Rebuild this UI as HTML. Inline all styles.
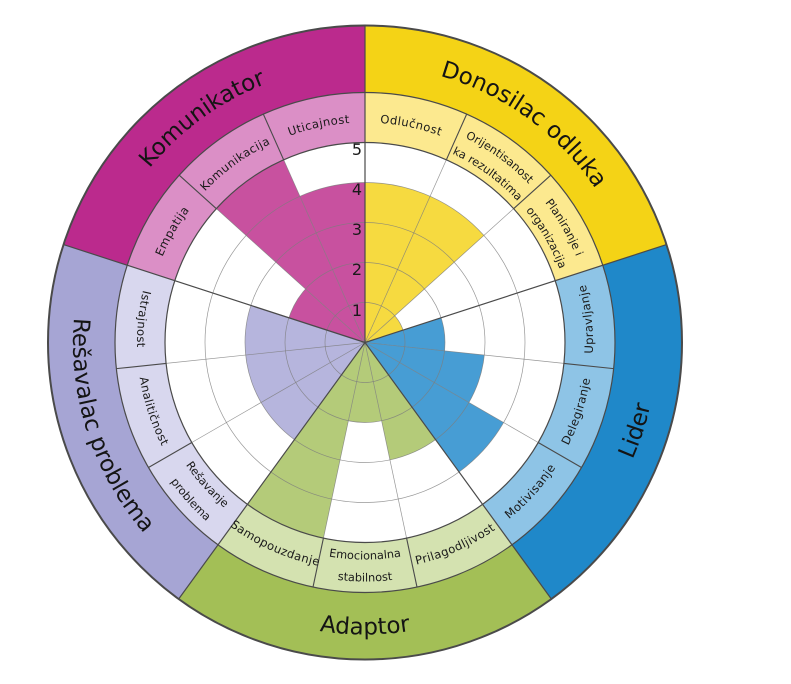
<!DOCTYPE html>
<html>
<head>
<meta charset="utf-8">
<style>
  html,body{margin:0;padding:0;background:#fff;}
  svg{display:block;}
  .s{font-family:"DejaVu Sans","Liberation Sans",sans-serif;font-size:11.6px;letter-spacing:0.4px;fill:#1a1a1a;}
  .t{font-family:"DejaVu Sans","Liberation Sans",sans-serif;font-size:11.3px;letter-spacing:0px;fill:#1a1a1a;}
  .c{font-family:"DejaVu Sans","Liberation Sans",sans-serif;font-size:23px;fill:#141414;}
  .n{font-family:"DejaVu Sans","Liberation Sans",sans-serif;font-size:16px;fill:#1a1a1a;}
</style>
</head>
<body>
<svg width="791" height="684" viewBox="0 0 791 684" xmlns="http://www.w3.org/2000/svg">
<rect width="791" height="684" fill="#fff"/>
<g transform="translate(365,342.5)">
  <defs>
    <path id="cw220" d="M-168.53,-141.41 A220,220 0 0 1 168.53,-141.41"/>
    <path id="cw228" d="M-174.66,-146.56 A228,228 0 0 1 174.66,-146.56"/>
    <path id="cw208" d="M-159.34,-133.70 A208,208 0 0 1 159.34,-133.70"/>
    <path id="cw277" d="M-212.19,-178.05 A277,277 0 0 1 212.19,-178.05"/>
    <path id="cc228" d="M-174.66,146.56 A228,228 0 0 0 174.66,146.56"/>
    <path id="cc217" d="M-166.23,139.49 A217,217 0 0 0 166.23,139.49"/>
    <path id="cc239" d="M-183.08,153.63 A239,239 0 0 0 183.08,153.63"/>
    <path id="cc292" d="M-223.68,187.69 A292,292 0 0 0 223.68,187.69"/>
  </defs>

  <!-- outer category wedges -->
  <path d="M0,0 L0,-317 A317,317 0 0 1 301.49,-97.96 Z" fill="#F4D316"/>
  <path d="M0,0 L301.49,-97.96 A317,317 0 0 1 186.33,256.46 Z" fill="#1F88C9"/>
  <path d="M0,0 L186.33,256.46 A317,317 0 0 1 -186.33,256.46 Z" fill="#A3BF56"/>
  <path d="M0,0 L-186.33,256.46 A317,317 0 0 1 -301.49,-97.96 Z" fill="#A6A5D4"/>
  <path d="M0,0 L-301.49,-97.96 A317,317 0 0 1 0,-317 Z" fill="#BB2A8D"/>

  <!-- subcategory band wedges -->
  <path d="M0,0 L0,-250 A250,250 0 0 1 237.76,-77.25 Z" fill="#FCE98F"/>
  <path d="M0,0 L237.76,-77.25 A250,250 0 0 1 146.95,202.25 Z" fill="#8EC4E6"/>
  <path d="M0,0 L146.95,202.25 A250,250 0 0 1 -146.95,202.25 Z" fill="#D4E2B0"/>
  <path d="M0,0 L-146.95,202.25 A250,250 0 0 1 -237.76,-77.25 Z" fill="#D8D7EE"/>
  <path d="M0,0 L-237.76,-77.25 A250,250 0 0 1 0,-250 Z" fill="#DB8FC6"/>

  <!-- white chart area -->
  <circle r="200" fill="#fff"/>

  <!-- data wedges -->
  <path d="M0,0 L0,-160 A160,160 0 0 1 118.90,-107.06 Z" fill="#F6DA40"/>
  <path d="M0,0 L29.73,-26.77 A40,40 0 0 1 38.04,-12.36 Z" fill="#F6DA40"/>
  <path d="M0,0 L76.08,-24.72 A80,80 0 0 1 79.56,8.36 Z" fill="#479DD4"/>
  <path d="M0,0 L119.34,12.54 A120,120 0 0 1 103.92,60 Z" fill="#479DD4"/>
  <path d="M0,0 L138.56,80 A160,160 0 0 1 94.05,129.44 Z" fill="#479DD4"/>
  <path d="M0,0 L70.53,97.08 A120,120 0 0 1 24.95,117.38 Z" fill="#B4CB79"/>
  <path d="M0,0 L16.63,78.25 A80,80 0 0 1 -16.63,78.25 Z" fill="#B4CB79"/>
  <path d="M0,0 L-41.58,195.63 A200,200 0 0 1 -117.56,161.80 Z" fill="#B4CB79"/>
  <path d="M0,0 L-70.53,97.08 A120,120 0 0 1 -114.13,-37.08 Z" fill="#B6B5DD"/>
  <path d="M0,0 L-76.08,-24.72 A80,80 0 0 1 -59.45,-53.53 Z" fill="#C8519F"/>
  <path d="M0,0 L-148.63,-133.83 A200,200 0 0 1 -81.35,-182.71 Z" fill="#C8519F"/>
  <path d="M0,0 L-65.08,-146.17 A160,160 0 0 1 0,-160 Z" fill="#C8519F"/>

  <!-- grid circles -->
  <g fill="none" stroke="#7d7d7d" stroke-width="0.7" stroke-opacity="0.8">
    <circle r="40"/><circle r="80"/><circle r="120"/><circle r="160"/>
  </g>
  <!-- thin radial grid lines -->
  <g stroke="#7d7d7d" stroke-width="0.7" stroke-opacity="0.8">
    <line x1="0" y1="0" x2="81.35" y2="-182.71"/>
    <line x1="0" y1="0" x2="148.63" y2="-133.83"/>
    <line x1="0" y1="0" x2="198.90" y2="20.91"/>
    <line x1="0" y1="0" x2="173.21" y2="100"/>
    <line x1="0" y1="0" x2="41.58" y2="195.63"/>
    <line x1="0" y1="0" x2="-41.58" y2="195.63"/>
    <line x1="0" y1="0" x2="-173.21" y2="100"/>
    <line x1="0" y1="0" x2="-198.90" y2="20.91"/>
    <line x1="0" y1="0" x2="-148.63" y2="-133.83"/>
    <line x1="0" y1="0" x2="-81.35" y2="-182.71"/>
  </g>
  <!-- subcategory boundaries in band -->
  <g stroke="#4a4a4a" stroke-width="1.1">
    <line x1="81.35" y1="-182.71" x2="101.68" y2="-228.39"/>
    <line x1="148.63" y1="-133.83" x2="185.79" y2="-167.28"/>
    <line x1="198.90" y1="20.91" x2="248.63" y2="26.13"/>
    <line x1="173.21" y1="100" x2="216.51" y2="125"/>
    <line x1="41.58" y1="195.63" x2="51.98" y2="244.54"/>
    <line x1="-41.58" y1="195.63" x2="-51.98" y2="244.54"/>
    <line x1="-173.21" y1="100" x2="-216.51" y2="125"/>
    <line x1="-198.90" y1="20.91" x2="-248.63" y2="26.13"/>
    <line x1="-148.63" y1="-133.83" x2="-185.79" y2="-167.28"/>
    <line x1="-81.35" y1="-182.71" x2="-101.68" y2="-228.39"/>
  </g>
  <!-- ring circles -->
  <g fill="none" stroke="#4a4a4a">
    <circle r="200" stroke-width="1.2"/>
    <circle r="250" stroke-width="1.2"/>
    <circle r="317" stroke-width="2"/>
  </g>
  <!-- category boundaries -->
  <g stroke="#4a4a4a" stroke-width="1.2">
    <line x1="0" y1="0" x2="0" y2="-317"/>
    <line x1="0" y1="0" x2="301.49" y2="-97.96"/>
    <line x1="0" y1="0" x2="186.33" y2="256.46"/>
    <line x1="0" y1="0" x2="-186.33" y2="256.46"/>
    <line x1="0" y1="0" x2="-301.49" y2="-97.96"/>
  </g>

  <!-- scale numbers -->
  <text class="n" x="-3" y="-187.5" text-anchor="end">5</text>
  <text class="n" x="-3" y="-147.5" text-anchor="end">4</text>
  <text class="n" x="-3" y="-107.5" text-anchor="end">3</text>
  <text class="n" x="-3" y="-67.5" text-anchor="end">2</text>
  <text class="n" x="-3" y="-26.5" text-anchor="end">1</text>

  <!-- subcategory labels (clockwise, tops outward) -->
  <g transform="rotate(12)"><text class="s"><textPath href="#cw220" startOffset="50%" text-anchor="middle">Odlučnost</textPath></text></g>
  <g transform="rotate(36)"><text class="t"><textPath href="#cw228" startOffset="50%" text-anchor="middle">Orijentisanost</textPath></text></g>
  <g transform="rotate(36)"><text class="t"><textPath href="#cw208" startOffset="50%" text-anchor="middle">ka rezultatima</textPath></text></g>
  <g transform="rotate(60)"><text class="t"><textPath href="#cw228" startOffset="50%" text-anchor="middle">Planiranje i</textPath></text></g>
  <g transform="rotate(60)"><text class="t"><textPath href="#cw208" startOffset="50%" text-anchor="middle">organizacija</textPath></text></g>
  <g transform="rotate(-60)"><text class="s"><textPath href="#cw220" startOffset="50%" text-anchor="middle">Empatija</textPath></text></g>
  <g transform="rotate(-36)"><text class="s"><textPath href="#cw220" startOffset="50%" text-anchor="middle">Komunikacija</textPath></text></g>
  <g transform="rotate(-12)"><text class="s"><textPath href="#cw220" startOffset="50%" text-anchor="middle">Uticajnost</textPath></text></g>

  <!-- subcategory labels (counter-clockwise, tops inward) -->
  <g transform="rotate(-96)"><text class="s"><textPath href="#cc228" startOffset="50%" text-anchor="middle">Upravljanje</textPath></text></g>
  <g transform="rotate(-72)"><text class="s"><textPath href="#cc228" startOffset="50%" text-anchor="middle">Delegiranje</textPath></text></g>
  <g transform="rotate(-48)"><text class="s"><textPath href="#cc228" startOffset="50%" text-anchor="middle">Motivisanje</textPath></text></g>
  <g transform="rotate(-24)"><text class="s"><textPath href="#cc228" startOffset="50%" text-anchor="middle">Prilagodljivost</textPath></text></g>
  <g><text class="t"><textPath href="#cc217" startOffset="50%" text-anchor="middle">Emocionalna</textPath></text></g>
  <g><text class="t"><textPath href="#cc239" startOffset="50%" text-anchor="middle">stabilnost</textPath></text></g>
  <g transform="rotate(24)"><text class="s"><textPath href="#cc228" startOffset="50%" text-anchor="middle">Samopouzdanje</textPath></text></g>
  <g transform="rotate(48)"><text class="t"><textPath href="#cc217" startOffset="50%" text-anchor="middle">Rešavanje</textPath></text></g>
  <g transform="rotate(48)"><text class="t"><textPath href="#cc239" startOffset="50%" text-anchor="middle">problema</textPath></text></g>
  <g transform="rotate(72)"><text class="s"><textPath href="#cc228" startOffset="50%" text-anchor="middle">Analitičnost</textPath></text></g>
  <g transform="rotate(96)"><text class="s"><textPath href="#cc228" startOffset="50%" text-anchor="middle">Istrajnost</textPath></text></g>

  <!-- category labels -->
  <g transform="rotate(36)"><text class="c"><textPath href="#cw277" startOffset="50%" text-anchor="middle">Donosilac odluka</textPath></text></g>
  <g transform="rotate(-36)"><text class="c"><textPath href="#cw277" startOffset="50%" text-anchor="middle">Komunikator</textPath></text></g>
  <g transform="rotate(-72)"><text class="c"><textPath href="#cc292" startOffset="50%" text-anchor="middle">Lider</textPath></text></g>
  <g><text class="c"><textPath href="#cc292" startOffset="50%" text-anchor="middle">Adaptor</textPath></text></g>
  <g transform="rotate(72)"><text class="c"><textPath href="#cc292" startOffset="50%" text-anchor="middle">Rešavalac problema</textPath></text></g>
</g>
</svg>
</body>
</html>
